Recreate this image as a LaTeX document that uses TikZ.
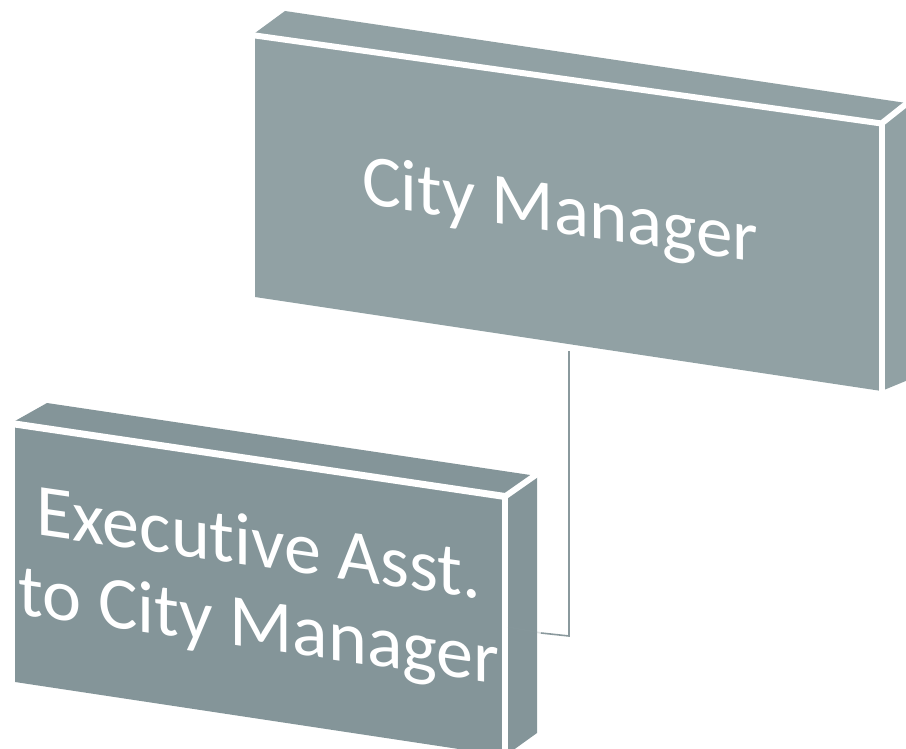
\documentclass[tikz,border=0pt]{standalone}
\usepackage{fontspec}
\setmainfont{Carlito}[Ligatures={NoCommon,NoRequired,NoContextual}]
\definecolor{cmgray}{RGB}{145,161,164}
\definecolor{eagray}{RGB}{132,149,153}
\definecolor{conngray}{RGB}{138,153,157}
\begin{document}
\begin{tikzpicture}[x=1pt,y=-1pt,
  boxtext/.style={text=white, inner sep=0pt, font=\fontsize{73}{82}\selectfont, anchor=base},
  gapline/.style={white, line width=6pt},
  conn/.style={draw=conngray, line width=1.6pt}]
\useasboundingbox (0,0) rectangle (906,749);
\clip (0,0) rectangle (906,749);

% connector (drawn first)
\coordinate (cmsouth) at (569,351);
\coordinate (bend) at (569,636);
\coordinate (eaeast) at (541,633);
\draw[conn] (cmsouth) -- (bend) -- (eaeast);

% City Manager box
\fill[cmgray] (255,297) -- (255,33) -- (285,11) -- (913,104) -- (913,378) -- (881.5,391) -- cycle;
\draw[gapline] (248,34.5) -- (881.5,123.5);
\draw[gapline] (881.5,123.5) -- (881.5,398);
\draw[gapline] (881.5,123.5) -- (915,97);
\node[boxtext, yslant=-0.147] (cm) at (560,233) {City Manager};

% Executive Asst. box
\fill[eagray] (15,682) -- (15,421) -- (47,403) -- (537,476) -- (537,733) -- (505,756) -- cycle;
\draw[gapline, line width=7pt] (8,423) -- (505,496.5);
\draw[gapline] (505,496.5) -- (505,760);
\draw[gapline] (505,496.5) -- (540,472);
\node[boxtext, yslant=-0.145, font=\fontsize{74}{82}\selectfont] (ea) at (259,649)
  {\begin{tabular}[b]{@{}c@{}}Executive Asst.\\to City Manager\end{tabular}};

% faint continuation of the connector over the side face
\draw[conn, opacity=0.25] (eaeast) -- (508,627);
\end{tikzpicture}
\end{document}
